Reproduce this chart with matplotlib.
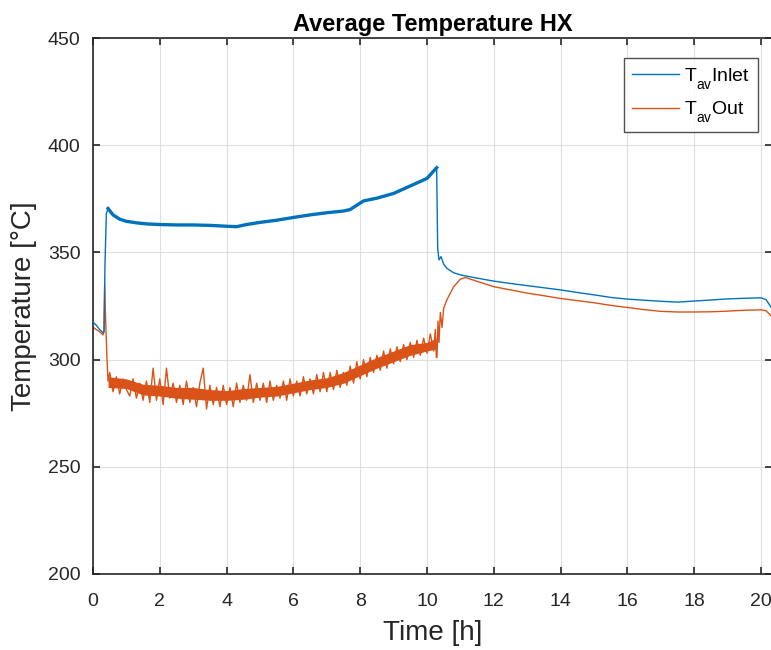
import matplotlib
matplotlib.use("Agg")
import matplotlib.pyplot as plt
import matplotlib._mathtext as mtext

# ── data ──────────────────────────────────────────────────────────────────────
INLET_T = [0.0, 0.1, 0.2, 0.3, 0.33, 0.36, 0.40, 0.45, 0.5, 0.6, 0.8, 1.0,
           1.3, 1.6, 2.0, 2.5, 3.0, 3.5, 4.0, 4.3, 4.6, 5.0, 5.5, 6.0, 6.5,
           7.0, 7.5, 7.7, 7.9, 8.1, 8.5, 9.0, 9.5, 10.0, 10.29, 10.32, 10.36,
           10.42, 10.5, 10.6, 10.8, 11.0, 11.5, 12.0, 12.5, 13.0, 13.5, 14.0,
           14.5, 15.0, 15.5, 16.0, 16.5, 17.0, 17.5, 18.0, 18.5, 19.0, 19.5,
           20.0, 20.15, 20.3]
INLET_V = [317.5, 316.0, 314.0, 312.5, 313.0, 345.0, 368.0, 370.5, 369.5,
           367.5, 365.5, 364.5, 363.8, 363.3, 363.0, 362.8, 362.8, 362.6,
           362.2, 362.0, 363.0, 364.0, 365.0, 366.3, 367.5, 368.5, 369.3,
           370.0, 372.0, 374.0, 375.3, 377.5, 381.0, 384.5, 389.5, 352.0,
           346.5, 348.0, 344.5, 342.5, 340.5, 339.5, 338.0, 336.6, 335.5,
           334.5, 333.5, 332.5, 331.3, 330.2, 329.0, 328.2, 327.7, 327.2,
           326.8, 327.3, 327.8, 328.3, 328.6, 328.8, 328.0, 324.5]

OUT_T = [0.0, 0.1, 0.2, 0.3, 0.33, 0.35, 0.38, 0.42, 0.45,
         0.5, 0.6, 0.7, 0.8, 0.9, 1.0, 1.1, 1.2, 1.3, 1.4, 1.5,
         1.6, 1.7, 1.8, 1.9, 2.0, 2.1, 2.2, 2.3, 2.4, 2.5,
         2.6, 2.7, 2.8, 2.9, 3.0, 3.1, 3.2, 3.3, 3.4, 3.5,
         3.6, 3.7, 3.8, 3.9, 4.0, 4.1, 4.2, 4.3, 4.4, 4.5,
         4.6, 4.7, 4.8, 4.9, 5.0, 5.1, 5.2, 5.3, 5.4, 5.5,
         5.6, 5.7, 5.8, 5.9, 6.0, 6.1, 6.2, 6.3, 6.4, 6.5,
         6.6, 6.7, 6.8, 6.9, 7.0, 7.1, 7.2, 7.3, 7.4, 7.5,
         7.6, 7.7, 7.8, 7.9, 8.0, 8.1, 8.2, 8.3, 8.4, 8.5,
         8.6, 8.7, 8.8, 8.9, 9.0, 9.1, 9.2, 9.3, 9.4, 9.5,
         9.6, 9.7, 9.8, 9.9, 10.0, 10.1, 10.2, 10.25, 10.28,
         10.3, 10.33, 10.36, 10.4, 10.45, 10.5, 10.6, 10.8, 11.0, 11.15,
         11.5, 12.0, 12.5, 13.0, 13.5, 14.0, 14.5, 15.0, 15.5, 16.0,
         16.5, 17.0, 17.5, 18.0, 18.5, 19.0, 19.5, 20.0, 20.15, 20.3]
OUT_V = [315.0, 314.0, 313.0, 311.5, 313.0, 335.0, 318.0, 300.0, 290.0,
         294, 285, 292, 284, 291, 286, 283, 291, 282, 289, 281,
         290, 280, 296, 281, 291, 279, 296, 282, 289, 280,
         288, 279, 290, 280, 287, 278, 289, 296, 277, 288,
         279, 287, 278, 288, 279, 287, 278, 289, 280, 288,
         281, 293, 280, 289, 281, 289, 280, 290, 281, 288,
         282, 290, 281, 291, 283, 290, 283, 292, 284, 291,
         284, 293, 285, 294, 285, 294, 286, 295, 287, 294,
         288, 297, 289, 299, 291, 300, 292, 301, 294, 302,
         295, 304, 296, 305, 298, 306, 299, 307, 300, 308,
         301, 309, 302, 310, 303, 312, 304, 314, 301,
         301.0, 318.0, 308.0, 322.0, 315.0, 324.0, 328.0, 334.0, 337.5, 338.3,
         336.5, 334.0, 332.5, 331.0, 329.8, 328.5, 327.5, 326.5, 325.3, 324.3,
         323.3, 322.5, 322.2, 322.2, 322.3, 322.6, 323.0, 323.2, 322.8, 320.5]

# lower / upper edge of the dense core of the noisy outlet band
BAND_T  = [0.45, 1.0, 1.5, 2.0, 2.5, 3.0, 3.5, 4.0, 4.5, 5.0, 5.5,
           6.0, 6.5, 7.0, 7.5, 8.0, 8.5, 9.0, 9.5, 10.0, 10.28]
BAND_LO = [287, 286.5, 283.5, 283, 282, 281.5, 281, 281, 281.5, 282.5, 283,
           284.5, 286, 287, 289, 292.5, 296, 299, 302, 304, 305]
BAND_HI = [292, 291, 288.5, 288, 287, 287, 286, 285.5, 286.5, 287, 287.5,
           289, 290.5, 291.5, 294, 297.5, 301, 304, 307, 308, 310]

X_TICKS = list(range(0, 21, 2))
Y_TICKS = list(range(200, 451, 50))

BLUE   = "#0072BD"
ORANGE = "#D95319"
INK    = "#262626"

plt.rcParams["font.family"] = ["Liberation Sans", "DejaVu Sans"]
plt.rcParams["mathtext.fontset"] = "custom"
plt.rcParams["mathtext.rm"] = "Liberation Sans"
plt.rcParams["mathtext.it"] = "Liberation Sans"
# drop subscripts lower, like the TeX interpreter of the original
mtext.FontConstantsBase.sub1 = 0.8
mtext.FontConstantsBase.sub2 = 0.9

fig = plt.figure(figsize=(7.71, 6.5), dpi=100)
ax = fig.add_axes([0.1206, 0.117, 0.8807, 0.8245])

ax.plot(INLET_T, INLET_V, color=BLUE, linewidth=1.0, label=r"T$_{\rm av}$Inlet", zorder=3)
# the noisy plateau of the inlet trace reads thicker
ax.plot(INLET_T[7:35], INLET_V[7:35], color=BLUE, linewidth=2.4, zorder=3)
ax.fill_between(BAND_T, BAND_LO, BAND_HI, color=ORANGE, linewidth=0, zorder=2)
ax.plot(OUT_T, OUT_V, color=ORANGE, linewidth=1.0, label=r"T$_{\rm av}$Out", zorder=2)

ax.set_xlim(0, 20.33)
ax.set_ylim(200, 450)
ax.set_xticks(X_TICKS)
ax.set_yticks(Y_TICKS)
ax.grid(True, color="#dfdfdf", linewidth=0.8)
ax.set_axisbelow(True)
ax.tick_params(axis="both", direction="in", top=True, right=True,
               labelsize=14, colors=INK, length=5, width=1.2)
ax.tick_params(axis="x", pad=14)
ax.tick_params(axis="y", pad=9)
for s in ax.spines.values():
    s.set_color(INK)
    s.set_linewidth(1.2)

ax.set_xlabel("Time [h]", fontsize=20, color=INK, labelpad=7)
ax.set_ylabel("Temperature [°C]", fontsize=20, color=INK, labelpad=8)
ax.set_title("Average Temperature HX", fontsize=17, fontweight="bold", color="black", pad=5)

leg = ax.legend(loc="upper right", bbox_to_anchor=(0.979, 0.963), borderaxespad=0,
                fontsize=14, frameon=True, fancybox=False, edgecolor=INK,
                handlelength=2.4, borderpad=0.4, labelspacing=0.45,
                handletextpad=0.3)
leg.get_frame().set_linewidth(1.0)
for line in leg.get_lines():
    line.set_linewidth(1.0)

fig.savefig("out.png", dpi=100)
